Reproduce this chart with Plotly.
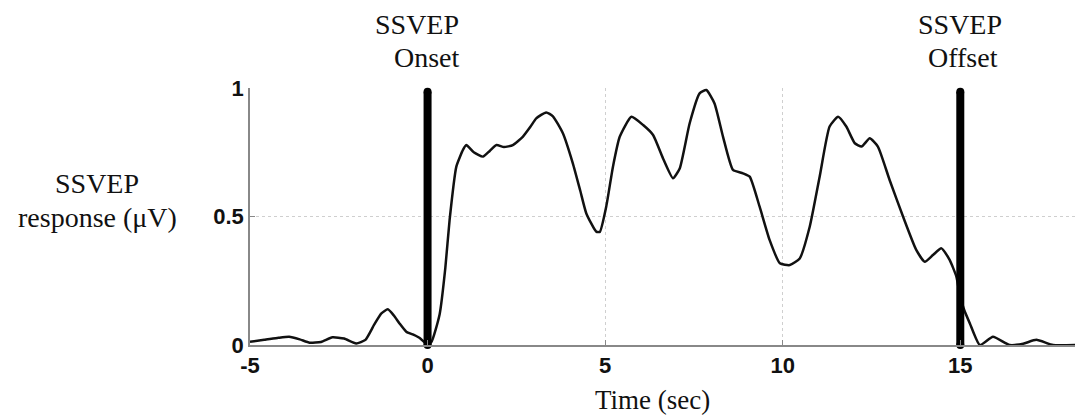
import plotly.graph_objects as go

# ---- data ----
time_s = [-5.0, -4.6, -4.2, -3.9, -3.6, -3.32, -3.0, -2.68, -2.35, -2.01, -1.75, -1.5, -1.3,
          -1.12, -0.95, -0.79, -0.6, -0.4, -0.22, -0.04, 0.1, 0.34, 0.5, 0.62, 0.81, 1.0,
          1.09, 1.3, 1.56, 1.75, 1.94, 2.15, 2.4, 2.68, 2.9, 3.06, 3.34, 3.53, 3.81, 4.09,
          4.3, 4.47, 4.75, 4.85, 5.03, 5.22, 5.41, 5.74, 6.07, 6.35, 6.63, 6.91, 7.1, 7.38,
          7.66, 7.85, 8.08, 8.32, 8.6, 8.88, 9.07, 9.35, 9.63, 9.92, 10.2, 10.48, 10.76,
          11.04, 11.32, 11.56, 11.79, 12.03, 12.22, 12.45, 12.68, 13.01, 13.39, 13.76, 14.0,
          14.23, 14.47, 14.7, 14.89, 14.98, 15.1, 15.27, 15.55, 15.92, 16.39, 16.77, 17.14,
          17.61, 18.23]
response_uv = [0.013, 0.02, 0.028, 0.032, 0.022, 0.009, 0.012, 0.03, 0.025, 0.006, 0.02, 0.08,
               0.123, 0.139, 0.115, 0.084, 0.052, 0.04, 0.027, 0.005, 0.01, 0.12, 0.30, 0.486,
               0.694, 0.76, 0.778, 0.75, 0.733, 0.755, 0.778, 0.77, 0.778, 0.81, 0.85, 0.882,
               0.905, 0.89, 0.824, 0.707, 0.60, 0.512, 0.441, 0.44, 0.538, 0.694, 0.81, 0.888,
               0.856, 0.817, 0.726, 0.649, 0.687, 0.863, 0.979, 0.992, 0.94, 0.81, 0.681,
               0.668, 0.655, 0.538, 0.409, 0.318, 0.311, 0.337, 0.46, 0.655, 0.85, 0.888, 0.85,
               0.785, 0.772, 0.804, 0.772, 0.642, 0.499, 0.37, 0.324, 0.35, 0.376, 0.331, 0.266,
               0.2, 0.14, 0.084, 0.0, 0.032, 0.0, 0.005, 0.02, 0.0, 0.0]

event_times = [0, 15]
event_top = 0.985
x_ticks = [-5, 0, 5, 10, 15]
x_tick_labels = ["-5", "0", "5", "10", "15"]
y_ticks = [0, 0.5, 1]
y_tick_labels = ["0", "0.5", "1"]
x_range = [-5, 18.23]

# ---- layout helpers (pixel -> paper) ----
W, H = 1075, 418
L, R, T, B = 250, 0, 88, 73
PW, PH = W - L - R, H - T - B


def px(xp):
    return (xp - L) / PW


def py(yp):
    return (H - B - yp) / PH


serif = "Liberation Serif, Times New Roman, serif"
sans = "Liberation Sans, Arial, sans-serif"

fig = go.Figure()

fig.add_trace(go.Scatter(
    x=time_s, y=response_uv, mode="lines",
    line=dict(color="#111111", width=2.5, shape="spline", smoothing=0.5),
    cliponaxis=False, showlegend=False, hoverinfo="skip"))

for t in event_times:
    fig.add_trace(go.Scatter(
        x=[t, t], y=[0, event_top], mode="lines+markers",
        line=dict(color="#000000", width=8),
        marker=dict(color="#000000", size=8),
        cliponaxis=False, showlegend=False, hoverinfo="skip"))

ann = []
# top labels
ann.append(dict(text="SSVEP", x=px(417), y=py(24)))
ann.append(dict(text="Onset", x=px(427), y=py(58)))
ann.append(dict(text="SSVEP", x=px(960), y=py(24)))
ann.append(dict(text="Offset", x=px(963), y=py(58)))
# y title
ann.append(dict(text="SSVEP", x=px(97), y=py(183)))
ann.append(dict(text="response (\u03bcV)", x=px(97), y=py(217)))
# x title
ann.append(dict(text="Time (sec)", x=px(652), y=py(400)))

for a in ann:
    a.update(xref="paper", yref="paper", xanchor="center", yanchor="middle",
             showarrow=False, font=dict(family=serif, size=28, color="#111111"))
ann[-1]["font"]["size"] = 27

tick_font = dict(family=sans, size=22, color="#111111", weight="bold")

fig.update_layout(
    width=W, height=H,
    margin=dict(l=L, r=R, t=T, b=B, pad=0),
    paper_bgcolor="white", plot_bgcolor="white",
    annotations=ann,
    xaxis=dict(range=x_range, tickmode="array", tickvals=x_ticks, ticktext=x_tick_labels,
               ticks="inside", ticklen=5, tickcolor="#888888",
               showline=True, linecolor="#888888", linewidth=1.5,
               showgrid=True, gridcolor="#cfcfcf", griddash="dot", gridwidth=1,
               zeroline=False, tickfont=tick_font),
    yaxis=dict(range=[0, 1], tickmode="array", tickvals=y_ticks, ticktext=y_tick_labels,
               ticks="inside", ticklen=5, tickcolor="#888888",
               showline=True, linecolor="#888888", linewidth=1.5,
               showgrid=True, gridcolor="#cfcfcf", griddash="dot", gridwidth=1,
               zeroline=False, tickfont=tick_font),
)

fig.write_html("out.html")
